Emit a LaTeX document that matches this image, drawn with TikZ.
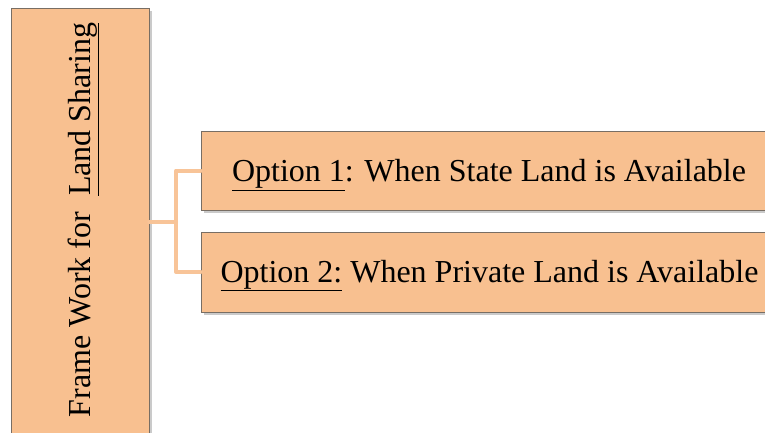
\documentclass[tikz,border=0pt]{standalone}
\usepackage{fontspec}
\setmainfont{Liberation Serif}
\usetikzlibrary{shadows}
\definecolor{boxfill}{RGB}{248,192,144}
\definecolor{boxline}{RGB}{120,110,100}
\definecolor{conn}{RGB}{248,196,152}
\tikzset{
  box/.style={draw=boxline, line width=0.8pt, fill=boxfill, inner sep=0pt,
    drop shadow={shadow xshift=2.5pt, shadow yshift=-2.5pt, opacity=0.35, fill=black!60}},
  lbl/.style={font=\fontsize{32}{38}\selectfont, text=black, inner sep=0pt, anchor=base},
  connector/.style={draw=conn, line width=4pt, line cap=round, line join=round}
}
\begin{document}
\begin{tikzpicture}[x=1pt,y=-1pt]
\useasboundingbox (0,0) rectangle (765,432);
\clip (0,0) rectangle (765,432);
\node[box, minimum width=138pt, minimum height=425pt] (frame) at (80,220.5) {};
\node[lbl, rotate=90] (frametext) at (90,220) {Frame Work for\ \ \underline{Land Sharing}};
\node[box, minimum width=576pt, minimum height=79pt] (opt1) at (489,170.5) {};
\node[lbl] (opt1text) at (489,181.5) {\underline{Option 1}: When State Land is Available};
\node[box, minimum width=576pt, minimum height=80pt] (opt2) at (489,272) {};
\node[lbl] (opt2text) at (489.5,282) {\underline{Option 2:} When Private Land is Available};
\coordinate (fork) at (176,222);
\draw[connector] (frame.east |- fork) -- (fork);
\draw[connector] (opt1.west) -| (fork) |- (opt2.west);
\end{tikzpicture}
\end{document}
